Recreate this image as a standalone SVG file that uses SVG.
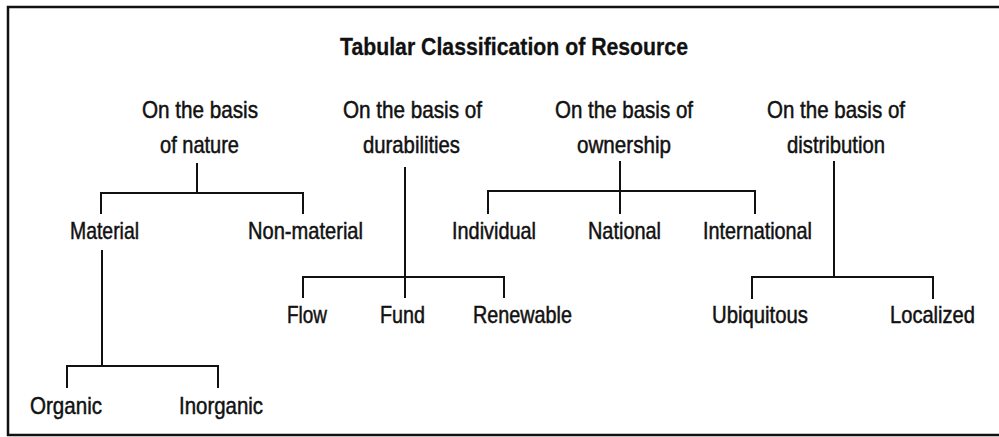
<svg xmlns="http://www.w3.org/2000/svg" width="999" height="437" viewBox="0 0 999 437">
<style>
text{font-family:"Liberation Sans",Arial,sans-serif;font-size:24px;fill:#111;stroke:#111;stroke-width:0.5;}
.title{font-weight:bold;stroke-width:0.3;}
.ln{stroke:#111;stroke-width:2;fill:none;stroke-linecap:square;}
.frame{stroke:#111;stroke-width:2.5;fill:none;}
</style>
<rect width="999" height="437" fill="#fff"/>
<path class="frame" d="M1010,7 H8 V435 H1010"/>
<g id="title"><text class="title" x="340" y="55" textLength="348" lengthAdjust="spacingAndGlyphs">Tabular Classification of Resource</text></g>
<g id="nature"><text x="142" y="118" textLength="116" lengthAdjust="spacingAndGlyphs">On the basis</text><text x="160" y="153" textLength="79" lengthAdjust="spacingAndGlyphs">of nature</text></g>
<g id="durability"><text x="343" y="118" textLength="139" lengthAdjust="spacingAndGlyphs">On the basis of</text><text x="363" y="153" textLength="97" lengthAdjust="spacingAndGlyphs">durabilities</text></g>
<g id="ownership"><text x="555" y="118" textLength="138" lengthAdjust="spacingAndGlyphs">On the basis of</text><text x="577" y="153" textLength="94" lengthAdjust="spacingAndGlyphs">ownership</text></g>
<g id="distribution"><text x="767" y="118" textLength="138" lengthAdjust="spacingAndGlyphs">On the basis of</text><text x="787" y="153" textLength="98" lengthAdjust="spacingAndGlyphs">distribution</text></g>
<g id="material"><text x="70" y="239" textLength="69" lengthAdjust="spacingAndGlyphs">Material</text></g>
<g id="nonmaterial"><text x="248" y="239" textLength="115" lengthAdjust="spacingAndGlyphs">Non-material</text></g>
<g id="individual"><text x="452" y="239" textLength="84" lengthAdjust="spacingAndGlyphs">Individual</text></g>
<g id="national"><text x="588" y="239" textLength="73" lengthAdjust="spacingAndGlyphs">National</text></g>
<g id="international"><text x="703" y="239" textLength="109" lengthAdjust="spacingAndGlyphs">International</text></g>
<g id="flow"><text x="287" y="323" textLength="40" lengthAdjust="spacingAndGlyphs">Flow</text></g>
<g id="fund"><text x="380" y="323" textLength="45" lengthAdjust="spacingAndGlyphs">Fund</text></g>
<g id="renewable"><text x="473" y="323" textLength="99" lengthAdjust="spacingAndGlyphs">Renewable</text></g>
<g id="ubiquitous"><text x="712" y="323" textLength="96" lengthAdjust="spacingAndGlyphs">Ubiquitous</text></g>
<g id="localized"><text x="890" y="323" textLength="85" lengthAdjust="spacingAndGlyphs">Localized</text></g>
<g id="organic"><text x="30" y="414" textLength="72" lengthAdjust="spacingAndGlyphs">Organic</text></g>
<g id="inorganic"><text x="179" y="414" textLength="84" lengthAdjust="spacingAndGlyphs">Inorganic</text></g>
<g id="connectors">
<path class="ln" d="M197,164 V193 M101,213 V193 H303 V213"/>
<path class="ln" d="M102,251 V366 M67,387 V366 H218 V387"/>
<path class="ln" d="M405,168 V297 M303,297 V277 H504 V297"/>
<path class="ln" d="M620,162 V213 M488,213 V191 H755 V213"/>
<path class="ln" d="M834,162 V277 M752,298 V277 H933 V298"/>
</g>
</svg>
